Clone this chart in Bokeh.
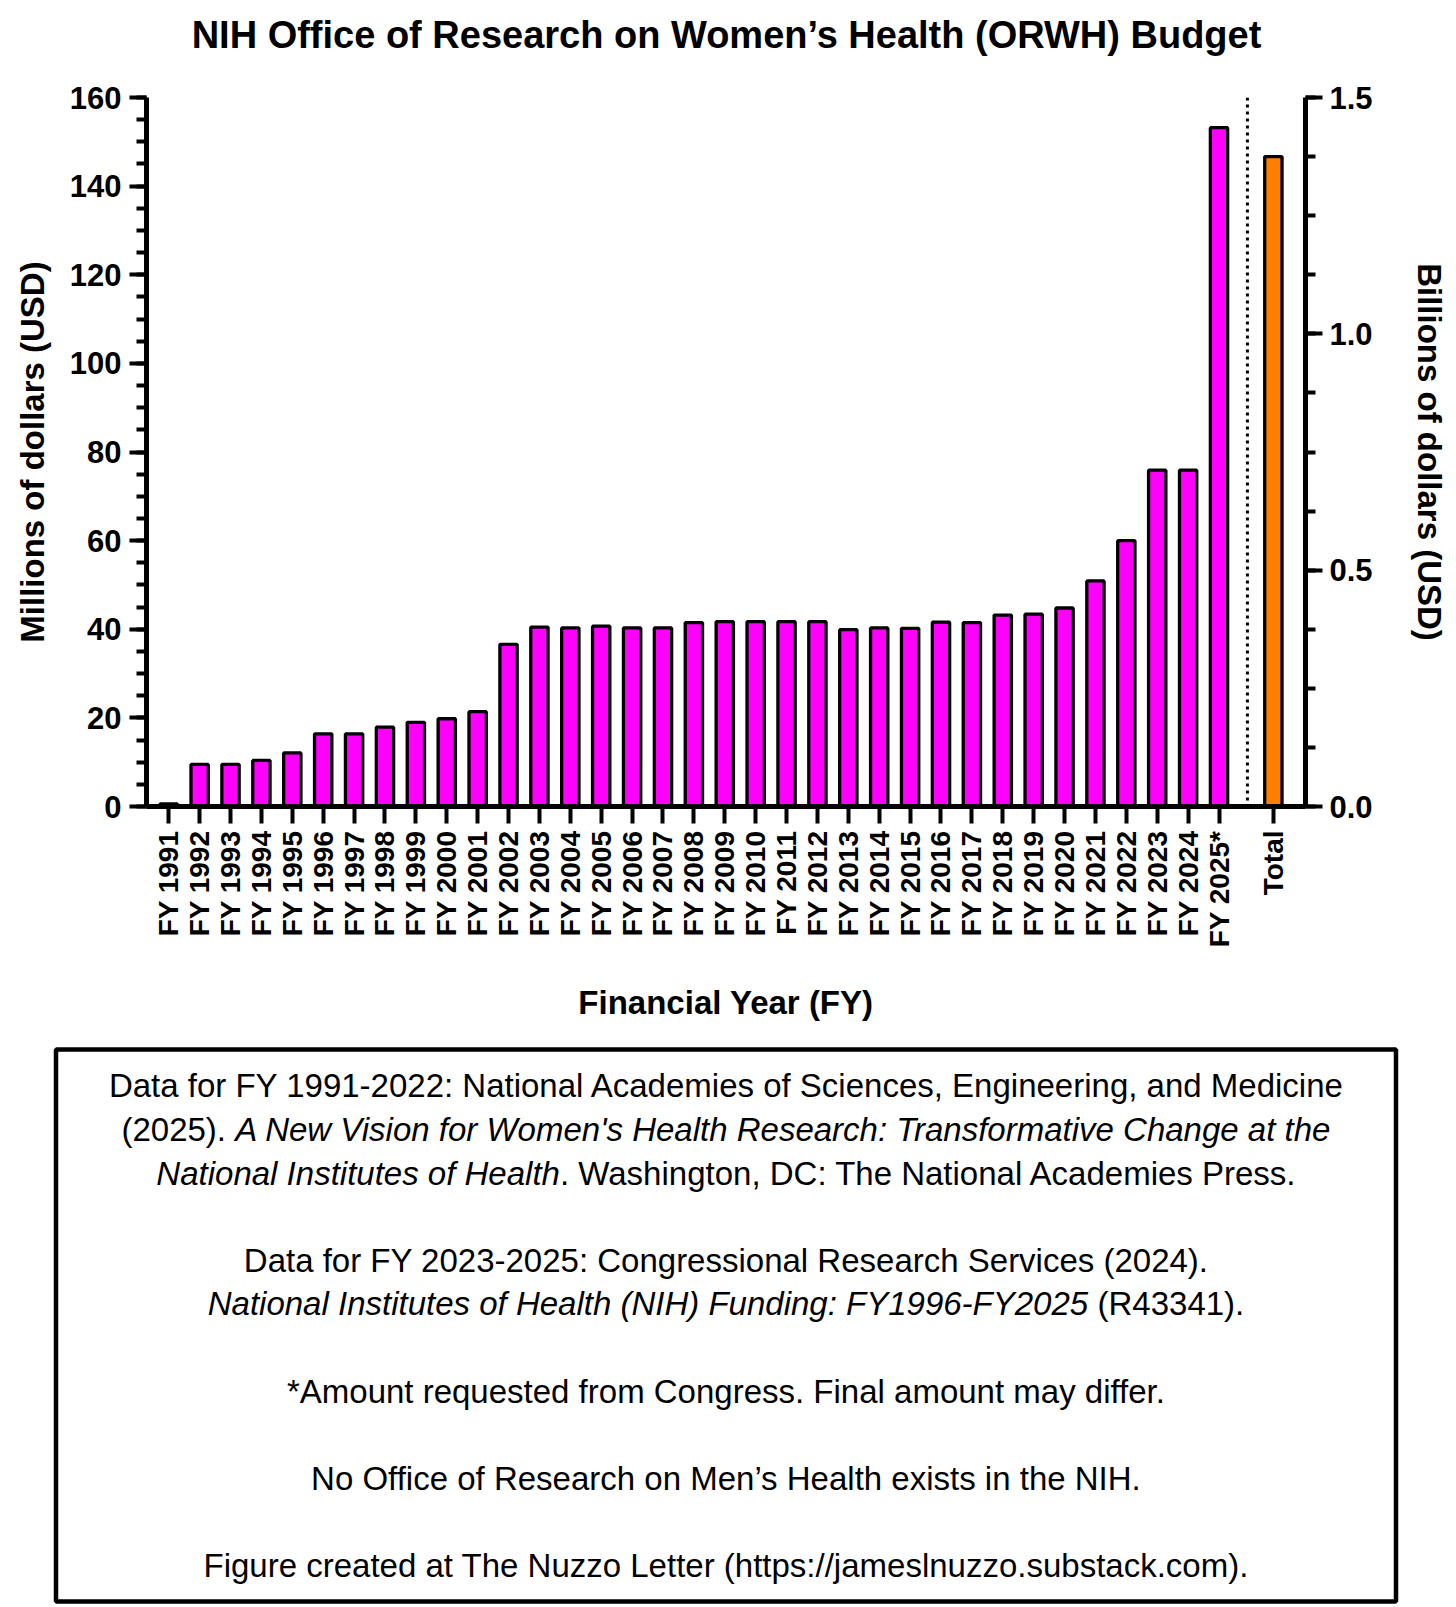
import math
import glob
import os

from bokeh.plotting import figure
from bokeh.models import (Range1d, LinearAxis, SingleIntervalTicker, FixedTicker,
                          PrintfTickFormatter, Span, ColumnDataSource)
from bokeh.embed import file_html
from bokeh.resources import INLINE
from bokeh.core.properties import value

# ---------------- data ----------------
years = ["FY 1991", "FY 1992", "FY 1993", "FY 1994", "FY 1995", "FY 1996", "FY 1997",
         "FY 1998", "FY 1999", "FY 2000", "FY 2001", "FY 2002", "FY 2003", "FY 2004",
         "FY 2005", "FY 2006", "FY 2007", "FY 2008", "FY 2009", "FY 2010", "FY 2011",
         "FY 2012", "FY 2013", "FY 2014", "FY 2015", "FY 2016", "FY 2017", "FY 2018",
         "FY 2019", "FY 2020", "FY 2021", "FY 2022", "FY 2023", "FY 2024", "FY 2025*"]
budget_millions = [0.6, 9.5, 9.5, 10.4, 12.1, 16.4, 16.4, 17.9, 19.0, 19.8, 21.4,
                   36.6, 40.5, 40.3, 40.7, 40.3, 40.3, 41.5, 41.7, 41.7, 41.7,
                   41.7, 39.9, 40.3, 40.2, 41.6, 41.5, 43.2, 43.4, 44.8, 50.9,
                   60.0, 75.9, 75.9, 153.2]
total_label = "Total"
total_billions = 1.375

left_ticks_interval = 20
right_ticks_interval = 0.5

TITLE = "NIH Office of Research on Women\u2019s Health (ORWH) Budget"
Y_LABEL = "Millions of dollars (USD)"
Y2_LABEL = "Billions of dollars (USD)"
X_LABEL = "Financial Year (FY)"

notes = [
    [("Data for FY 1991-2022: National Academies of Sciences, Engineering, and Medicine", "normal")],
    [("(2025). ", "normal"),
     ("A New Vision for Women's Health Research: Transformative Change at the", "italic")],
    [("National Institutes of Health", "italic"),
     (". Washington, DC: The National Academies Press.", "normal")],
    [],
    [("Data for FY 2023-2025: Congressional Research Services (2024).", "normal")],
    [("National Institutes of Health (NIH) Funding: FY1996-FY2025", "italic"),
     (" (R43341).", "normal")],
    [],
    [("*Amount requested from Congress. Final amount may differ.", "normal")],
    [],
    [("No Office of Research on Men\u2019s Health exists in the NIH.", "normal")],
    [],
    [("Figure created at The Nuzzo Letter (https://jameslnuzzo.substack.com).", "normal")],
]

FONT = "Liberation Sans"
MAGENTA = "#FF00FF"
ORANGE = "#FF8000"

# ---------------- layout sizes ----------------
W = 1456
TITLE_H = 60
CHART_H = 970
BOX_H = 577

# ---------------- title figure ----------------
tf = figure(width=W, height=TITLE_H, x_range=Range1d(0, W), y_range=Range1d(TITLE_H, 0),
            output_backend="svg", toolbar_location=None, min_border=0,
            x_axis_type=None, y_axis_type=None, outline_line_color=None, title=None)
tf.grid.visible = False
tf.text(x=[726], y=[34.7], text=[TITLE], text_align="center", text_baseline="alphabetic",
        text_font=value(FONT), text_font_style="bold", text_font_size="38px",
        text_color="black")

# ---------------- chart figure ----------------
n = len(years)
xs = [float(i) for i in range(n)]
x_total = (n - 1) + 1.76
x_sep = (n - 1) + 0.92

p = figure(width=W, height=CHART_H, x_range=Range1d(-0.72, x_total + 1.04),
           y_range=Range1d(0, 160), output_backend="svg", toolbar_location=None,
           min_border_left=146, min_border_right=151, min_border_top=37,
           min_border_bottom=224, outline_line_color=None, title=None)
p.grid.visible = False
p.extra_y_ranges = {"bil": Range1d(0, 1.5)}

src = ColumnDataSource(dict(x=xs, top=budget_millions))
p.vbar(x="x", top="top", bottom=0, width=0.56, source=src,
       fill_color=MAGENTA, line_color="black", line_width=3.3)
tsrc = ColumnDataSource(dict(x=[x_total], top=[total_billions]))
p.vbar(x="x", top="top", bottom=0, width=0.56, source=tsrc, y_range_name="bil",
       fill_color=ORANGE, line_color="black", line_width=3.3)

p.add_layout(Span(location=x_sep, dimension="height", line_color="black",
                  line_width=3, line_dash="3 4"))

# left axis
ly = p.yaxis[0]
ly.ticker = SingleIntervalTicker(interval=left_ticks_interval, num_minor_ticks=4)
ly.axis_label = Y_LABEL

# right axis
ry = LinearAxis(y_range_name="bil",
                ticker=SingleIntervalTicker(interval=right_ticks_interval, num_minor_ticks=4),
                formatter=PrintfTickFormatter(format="%.1f"), axis_label=Y2_LABEL)
p.add_layout(ry, "right")

for ax in (ly, ry):
    ax.axis_line_width = 5
    ax.axis_line_color = "black"
    ax.major_tick_line_width = 4
    ax.minor_tick_line_width = 4
    ax.major_tick_line_color = "black"
    ax.minor_tick_line_color = "black"
    ax.major_tick_out = 17
    ax.major_tick_in = 0
    ax.minor_tick_out = 10
    ax.minor_tick_in = 0
    ax.major_label_text_font = FONT
    ax.major_label_text_font_style = "bold"
    ax.major_label_text_font_size = "31px"
    ax.major_label_text_color = "black"
    ax.axis_label_text_font = FONT
    ax.axis_label_text_font_style = "bold"
    ax.axis_label_text_font_size = "33px"
    ax.axis_label_text_color = "black"
ly.major_label_standoff = 8
ly.axis_label_standoff = 16
ry.major_label_standoff = 7
ry.axis_label_standoff = 35

# bottom axis
bx = p.xaxis[0]
bx.ticker = FixedTicker(ticks=xs + [x_total], minor_ticks=[])
overrides = {x: lab for x, lab in zip(xs, years)}
overrides[x_total] = total_label
bx.major_label_overrides = overrides
bx.major_label_orientation = math.pi / 2
bx.axis_line_width = 5
bx.axis_line_color = "black"
bx.major_tick_line_width = 4
bx.major_tick_line_color = "black"
bx.major_tick_out = 17
bx.major_tick_in = 0
bx.minor_tick_out = 0
bx.minor_tick_in = 0
bx.major_label_standoff = 7
bx.major_label_text_font = FONT
bx.major_label_text_font_style = "bold"
bx.major_label_text_font_size = "28px"
bx.major_label_text_color = "black"
bx.axis_label = X_LABEL
bx.axis_label_text_font = FONT
bx.axis_label_text_font_style = "bold"
bx.axis_label_text_font_size = "33px"
bx.axis_label_text_color = "black"
bx.axis_label_standoff = 34

# ---------------- notes box figure ----------------
NOTE_SIZE = 33


def _font_path(name):
    roots = ["/usr/share/fonts", "/usr/local/share/fonts", "/usr/lib/fonts",
             os.path.expanduser("~/.local/share/fonts"), os.path.expanduser("~/.fonts")]
    for r in roots:
        hits = glob.glob(os.path.join(r, "**", name), recursive=True)
        if hits:
            return hits[0]
    return None


_fonts = {}
try:
    from PIL import ImageFont
    for style, fname in (("normal", "LiberationSans-Regular.ttf"),
                         ("italic", "LiberationSans-Italic.ttf")):
        pth = _font_path(fname)
        if pth:
            _fonts[style] = ImageFont.truetype(pth, NOTE_SIZE)
except Exception:
    _fonts = {}


def text_width(s, style):
    f = _fonts.get(style)
    if f is not None:
        return float(f.getlength(s))
    return sum(0.278 * NOTE_SIZE if c == " " else 0.52 * NOTE_SIZE for c in s)


bf = figure(width=W, height=BOX_H, x_range=Range1d(0, W), y_range=Range1d(BOX_H, 0),
            output_backend="svg", toolbar_location=None, min_border=0,
            x_axis_type=None, y_axis_type=None, outline_line_color=None, title=None)
bf.grid.visible = False
bf.quad(left=[55.5], right=[1395.5], top=[19], bottom=[571], fill_color=None,
        line_color="black", line_width=4.5)

cx = 725.5
base0 = 55.4
line_step = 43.6
seg = {"normal": dict(x=[], y=[], text=[]), "italic": dict(x=[], y=[], text=[])}
for k, line in enumerate(notes):
    if not line:
        continue
    total_w = sum(text_width(s, st) for s, st in line)
    cursor = cx - total_w / 2.0
    yb = base0 + k * line_step
    for s, st in line:
        stripped = s.lstrip(" ")
        lead = s[:len(s) - len(stripped)]
        seg[st]["x"].append(cursor + (text_width(lead, st) if lead else 0.0))
        seg[st]["y"].append(yb)
        seg[st]["text"].append(stripped.rstrip(" "))
        cursor += text_width(s, st)

for st in ("normal", "italic"):
    bf.text(x="x", y="y", text="text", source=ColumnDataSource(seg[st]),
            text_align="left", text_baseline="alphabetic", text_font=value(FONT),
            text_font_style=st, text_font_size=f"{NOTE_SIZE}px", text_color="black")

open("out.html", "w").write(file_html([tf, p, bf], INLINE))
